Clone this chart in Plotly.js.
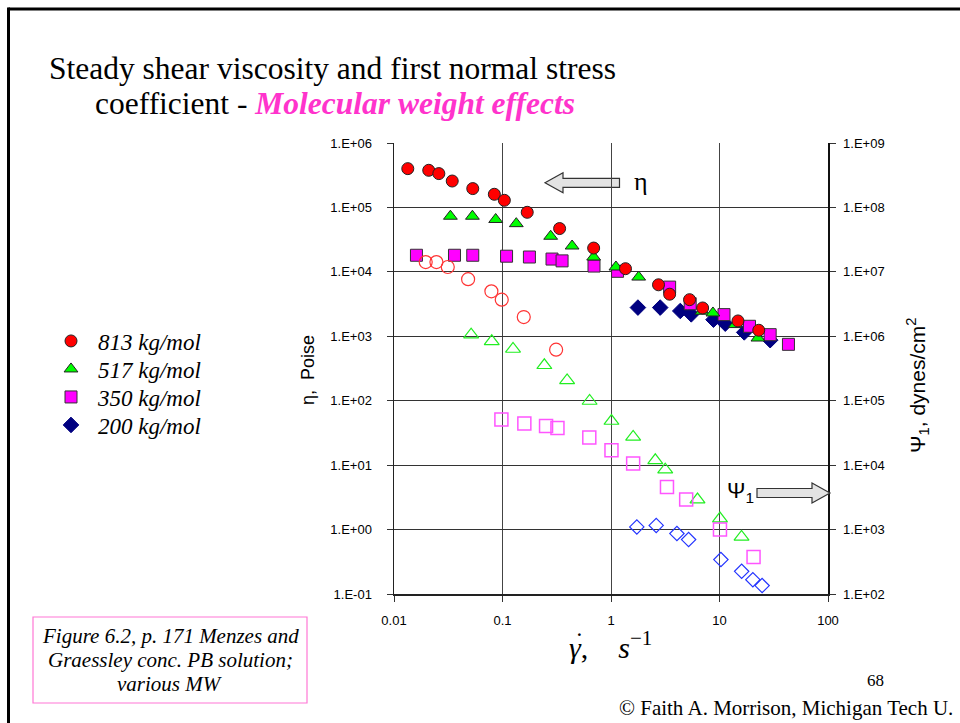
<!DOCTYPE html>
<html>
<head>
<meta charset="utf-8">
<script src="https://cdn.plot.ly/plotly-3.0.1.min.js"></script>
<style>
  html, body { margin: 0; padding: 0; background: #fff; }
  #chart { width: 960px; height: 723px; }
</style>
</head>
<body>
<div id="chart"></div>
<script>
// Shear rate (1/s) and measured values for each molecular weight.
// Filled symbols: steady shear viscosity eta (Poise, left axis).
// Open symbols: first normal stress coefficient Psi1 (dynes/cm^2, right axis).
const seriesNames = ['813 kg/mol', '517 kg/mol', '350 kg/mol', '200 kg/mol'];

const rateEta813 = [0.0134, 0.0209, 0.0259, 0.0344, 0.0532, 0.0841, 0.104, 0.169, 0.336, 0.692, 1.36, 2.74, 3.47, 5.30, 6.99, 14.8, 23.0];
const eta813     = [4.0e5, 3.77e5, 3.35e5, 2.57e5, 1.96e5, 1.60e5, 1.29e5, 8.4e4, 4.7e4, 2.34e4, 1.12e4, 6.3e3, 4.5e3, 3.7e3, 2.75e3, 1.73e3, 1.24e3];

const rateEta517 = [0.0331, 0.0528, 0.0865, 0.134, 0.278, 0.438, 0.692, 1.11, 1.80, 6.9, 8.7, 14.0, 22.6];
const eta517     = [7.3e4, 7.3e4, 6.5e4, 5.6e4, 3.57e4, 2.52e4, 1.70e4, 1.19e4, 8.3e3, 2.45e3, 2.30e3, 1.52e3, 940];

const rateEta350 = [0.0161, 0.0361, 0.0532, 0.109, 0.177, 0.286, 0.354, 0.697, 1.15, 3.47, 5.37, 11.0, 18.9, 29.3, 43.2];
const eta350     = [1.81e4, 1.81e4, 1.81e4, 1.75e4, 1.70e4, 1.58e4, 1.48e4, 1.23e4, 1.02e4, 5.8e3, 3.2e3, 2.17e3, 1.43e3, 1.06e3, 750];

const rateEta200 = [1.77, 2.84, 4.35, 5.49, 8.8, 11.3, 16.9, 29.3];
const eta200     = [2790, 2790, 2470, 2190, 1810, 1570, 1150, 870];

const ratePsi813 = [0.0196, 0.0246, 0.0313, 0.0482, 0.079, 0.0984, 0.157, 0.312];
const psi813     = [1.42e7, 1.42e7, 1.19e7, 7.7e6, 4.99e6, 3.7e6, 1.99e6, 6.2e5];

const ratePsi517 = [0.0514, 0.0796, 0.125, 0.243, 0.394, 0.635, 1.01, 1.60, 2.56, 3.16, 6.27, 10.1, 15.96];
const psi517     = [1.06e6, 8.36e5, 6.35e5, 3.55e5, 2.07e5, 9.9e4, 4.84e4, 2.74e4, 1.19e4, 8.5e3, 2.92e3, 1.48e3, 770];

const ratePsi350 = [0.0977, 0.159, 0.252, 0.321, 0.631, 1.01, 1.60, 3.28, 4.93, 10.1, 20.6];
const psi350     = [5.09e4, 4.42e4, 4.05e4, 3.78e4, 2.68e4, 1.70e4, 1.06e4, 4.58e3, 2.92e3, 1.0e3, 375];

const ratePsi200 = [1.73, 2.61, 4.05, 5.19, 10.3, 16.0, 20.3, 24.7];
const psi200     = [1100, 1160, 867, 699, 342, 225, 167, 135];

// Axis tick values and labels
const xTickVals   = [0.01, 0.1, 1, 10, 100];
const xTickText   = ['0.01', '0.1', '1', '10', '100'];
const yTickVals   = [0.1, 1, 10, 100, 1e3, 1e4, 1e5, 1e6];
const yTickText   = ['1.E-01', '1.E+00', '1.E+01', '1.E+02', '1.E+03', '1.E+04', '1.E+05', '1.E+06'];
const y2TickVals  = [1e2, 1e3, 1e4, 1e5, 1e6, 1e7, 1e8, 1e9];
const y2TickText  = ['1.E+02', '1.E+03', '1.E+04', '1.E+05', '1.E+06', '1.E+07', '1.E+08', '1.E+09'];

// Plot-area geometry in pixels, and helpers to place page furniture.
const W = 960, H = 723;
const L = 394, R = 828, T = 143, B = 594;
const px = X => (X - L) / (R - L);
const py = Y => (B - Y) / (B - T);

const SERIF = 'Liberation Serif, Times New Roman, serif';
const SANS = 'Liberation Sans, Arial, sans-serif';

function filled(x, y, name, symbol, fill, edge, legendId) {
  return {
    x: x, y: y, name: name, type: 'scatter', mode: 'markers',
    xaxis: 'x', yaxis: 'y', showlegend: true, legend: legendId, cliponaxis: false,
    marker: { symbol: symbol, size: 12, color: fill, line: { color: edge, width: 1 } }
  };
}
function open(x, y, name, symbol, colour, size, lw) {
  return {
    x: x, y: y, name: name, type: 'scatter', mode: 'markers',
    xaxis: 'x', yaxis: 'y2', showlegend: false, cliponaxis: false,
    marker: { symbol: symbol, size: size, color: colour, line: { color: colour, width: lw } }
  };
}

const traces = [
  open(ratePsi813, psi813, seriesNames[0], 'circle-open', '#FF3333', 13, 1.2),
  open(ratePsi517, psi517, seriesNames[1], 'triangle-up-open', '#22EE22', 13, 1.2),
  open(ratePsi350, psi350, seriesNames[2], 'square-open', '#FF55FF', 13, 1.5),
  open(ratePsi200, psi200, seriesNames[3], 'diamond-open', '#2233FF', 11, 1.2),
  filled(rateEta200, eta200, seriesNames[3], 'diamond', '#000080', '#000080', 'legend4'),
  filled(rateEta350, eta350, seriesNames[2], 'square', '#FF00FF', '#333333', 'legend3'),
  filled(rateEta517, eta517, seriesNames[1], 'triangle-up', '#00FF00', '#222222', 'legend2'),
  filled(rateEta813, eta813, seriesNames[0], 'circle', '#FF0000', '#222222', 'legend')
];

// One legend box per series so the rows sit on a fixed pitch
function legendAt(yPix) {
  return {
    x: px(44), y: py(yPix), xanchor: 'left', yanchor: 'middle',
    bgcolor: 'rgba(0,0,0,0)', borderwidth: 0, itemwidth: 44,
    font: { family: SERIF, size: 23, style: 'italic', color: '#000' }
  };
}

// Block arrows drawn as paper-referenced paths
function blockArrow(points) {
  return 'M ' + points.map(p => px(p[0]) + ' ' + py(p[1])).join(' L ') + ' Z';
}
const arrowLeft = blockArrow([[545, 182.7], [563, 172.7], [563, 178.3], [619.5, 178.3], [619.5, 187.3], [563, 187.3], [563, 192.7]]);
const arrowRight = blockArrow([[830, 493], [812, 483], [812, 488.5], [757, 488.5], [757, 497.5], [812, 497.5], [812, 503]]);

function note(x, y, text, font, extra) {
  return Object.assign({ xref: 'paper', yref: 'paper', x: px(x), y: py(y), xanchor: 'center', yanchor: 'middle',
    showarrow: false, text: text, font: font }, extra || {});
}

const layout = {
  width: W, height: H,
  margin: { l: L, r: W - R, t: T, b: H - B, pad: 0 },
  paper_bgcolor: '#ffffff', plot_bgcolor: '#ffffff',
  font: { family: SANS, size: 13, color: '#000' },
  showlegend: true,
  legend: legendAt(341),
  legend2: legendAt(369),
  legend3: legendAt(397),
  legend4: legendAt(425),
  xaxis: {
    type: 'log', range: [-2, 2],
    tickvals: xTickVals, ticktext: xTickText,
    ticks: 'outside', ticklen: 6, tickcolor: '#333', tickwidth: 1,
    showline: true, linecolor: '#222', linewidth: 1.5, mirror: false,
    showgrid: true, gridcolor: '#444', gridwidth: 1,
    zeroline: false, ticklabelstandoff: 8,
    tickfont: { family: SANS, size: 13, color: '#000' }
  },
  yaxis: {
    type: 'log', range: [-1, 6],
    tickvals: yTickVals, ticktext: yTickText,
    ticks: 'outside', ticklen: 6, tickcolor: '#333', tickwidth: 1,
    showline: true, linecolor: '#222', linewidth: 1.5,
    showgrid: true, gridcolor: '#333', gridwidth: 1,
    zeroline: false, ticklabelstandoff: 12,
    tickfont: { family: SANS, size: 13, color: '#000' }
  },
  yaxis2: {
    type: 'log', range: [2, 9], overlaying: 'y', side: 'right',
    tickvals: y2TickVals, ticktext: y2TickText,
    ticks: 'outside', ticklen: 6, tickcolor: '#333', tickwidth: 1,
    showline: true, linecolor: '#111', linewidth: 1.5,
    showgrid: false, zeroline: false, ticklabelstandoff: 5,
    tickfont: { family: SANS, size: 13, color: '#000' }
  },
  shapes: [
    // page frame
    { type: 'line', xref: 'paper', yref: 'paper', x0: px(8.5), y0: py(9), x1: px(962), y1: py(9), line: { color: '#000', width: 3 } },
    { type: 'line', xref: 'paper', yref: 'paper', x0: px(8.5), y0: py(7.5), x1: px(8.5), y1: py(725), line: { color: '#000', width: 3 } },
    // eta and Psi1 direction arrows
    { type: 'path', xref: 'paper', yref: 'paper', path: arrowLeft, layer: 'below', fillcolor: '#E3E3E3', line: { color: '#333', width: 1.2 } },
    { type: 'path', xref: 'paper', yref: 'paper', path: arrowRight, layer: 'above', fillcolor: '#E3E3E3', line: { color: '#333', width: 1.2 } },
    // reference box
    { type: 'rect', xref: 'paper', yref: 'paper', x0: px(33), y0: py(617), x1: px(307), y1: py(703), line: { color: '#FF77D5', width: 1.2 }, fillcolor: 'rgba(0,0,0,0)' }
  ],
  annotations: [
    note(47, 68, 'Steady shear viscosity and first normal stress',
      { family: SERIF, size: 31.5, color: '#000' }, { xanchor: 'left' }),
    note(93, 103, 'coefficient - <b><i><span style="color:#FF33CC">Molecular weight effects</span></i></b>',
      { family: SERIF, size: 31.5, color: '#000' }, { xanchor: 'left' }),
    note(308, 370, 'η,\u00a0 Poise', { family: SANS, size: 18, color: '#000' }, { textangle: -90 }),
    note(917, 386, 'Ψ<sub>1</sub>, dynes/cm<sup>2</sup>', { family: SANS, size: 21, color: '#000' }, { textangle: -90 }),
    // shear-rate symbol: gamma with an overdot
    note(610, 645, '<i>γ</i>,\u00a0\u00a0\u00a0\u00a0<i>s</i><sup>−1</sup>', { family: SERIF, size: 30, color: '#000' }),
    note(579, 641, '˙', { family: SERIF, size: 26, color: '#000' }),
    note(641, 182, 'η', { family: SERIF, size: 26, color: '#000' }),
    note(740, 492, 'Ψ<sub>1</sub>', { family: SANS, size: 22, color: '#000' }),
    note(170, 636, '<i>Figure 6.2, p. 171 Menzes and</i>', { family: SERIF, size: 21, color: '#000' }),
    note(170, 660, '<i>Graessley conc. PB solution;</i>', { family: SERIF, size: 21, color: '#000' }),
    note(170, 684, '<i>various MW</i>', { family: SERIF, size: 21, color: '#000' }),
    note(875, 680, '68', { family: SERIF, size: 17, color: '#000' }),
    note(955, 708, '© Faith A. Morrison, Michigan Tech U.', { family: SERIF, size: 21, color: '#000' }, { xanchor: 'right' })
  ]
};

Plotly.newPlot('chart', traces, layout, { staticPlot: true, displayModeBar: false });
</script>
</body>
</html>
